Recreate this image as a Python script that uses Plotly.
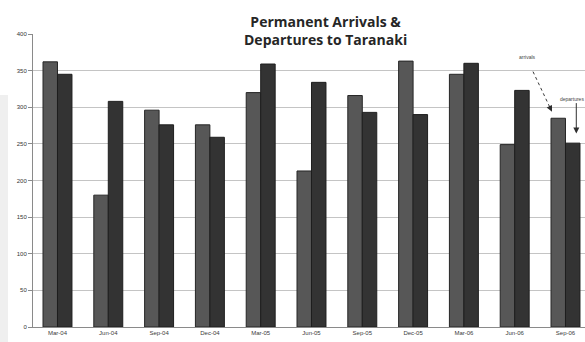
import plotly.graph_objects as go

# Quarterly permanent migration to Taranaki
quarters = ["Mar-04", "Jun-04", "Sep-04", "Dec-04", "Mar-05", "Jun-05",
            "Sep-05", "Dec-05", "Mar-06", "Jun-06", "Sep-06"]
arrivals = [362, 180, 296, 276, 320, 213, 316, 363, 345, 249, 285]
departures = [345, 308, 276, 259, 359, 334, 293, 290, 360, 323, 251]
y_ticks = [0, 50, 100, 150, 200, 250, 300, 350, 400]

W, H = 585, 342
M_L, M_R, M_T, M_B = 33, 0, 34, 15
BARGAP = 0.43
X_RANGE = [-0.482, 10.384]
Y_RANGE = [0, 400]

plot_w = W - M_L - M_R
plot_h = H - M_T - M_B
px_per_x = plot_w / (X_RANGE[1] - X_RANGE[0])
px_per_y = plot_h / (Y_RANGE[1] - Y_RANGE[0])
bar_w = (1 - BARGAP) / 2


def py(px_from_top):
    """Paper y for a pixel row measured from the top of the figure."""
    return (H - M_B - px_from_top) / plot_h


def px(px_from_left):
    """Paper x for a pixel column measured from the left of the figure."""
    return (px_from_left - M_L) / plot_w


fig = go.Figure()
fig.add_trace(go.Bar(
    x=quarters, y=arrivals, name="arrivals",
    marker=dict(color="#575757", line=dict(color="#262626", width=1)),
))
fig.add_trace(go.Bar(
    x=quarters, y=departures, name="departures",
    marker=dict(color="#333333", line=dict(color="#1e1e1e", width=1)),
))

last = len(quarters) - 1

# "arrivals" pointer: dotted leader ending in an arrowhead at the bar's corner
arr_tip_x = last - bar_w + 0.02
arr_tip_y = arrivals[-1] + 9
arr_dx, arr_dy = -19, -40  # tail offset in pixels
arr_tail_x = arr_tip_x + arr_dx / px_per_x
arr_tail_y = arr_tip_y - arr_dy / px_per_y

# "departures" pointer: straight arrow above the bar
dep_tip_x = last + bar_w / 2 + 0.07
dep_tip_y = departures[-1] + 13

shapes = [
    # grey strip along the left edge
    dict(type="rect", xref="paper", yref="paper",
         x0=px(0), x1=px(8), y0=py(H), y1=py(95),
         fillcolor="#efefef", line=dict(width=0), layer="below"),
    dict(type="line", xref="x", yref="y",
         x0=arr_tail_x, y0=arr_tail_y,
         x1=arr_tip_x - 2 / px_per_x, y1=arr_tip_y + 4 / px_per_y,
         line=dict(color="#3a3a3a", width=1, dash="dot")),
]

annotations = [
    dict(text="<b>Permanent Arrivals &<br>Departures to Taranaki</b>",
         xref="paper", yref="paper", x=px(325), y=py(30), showarrow=False,
         xanchor="center", yanchor="middle", align="center", borderpad=0,
         font=dict(family="Open Sans", size=14, color="#262626")),
    dict(text="arrivals", xref="x", yref="y",
         x=arr_tail_x - 6 / px_per_x, y=arr_tail_y + 15 / px_per_y, showarrow=False,
         font=dict(family="Liberation Sans", size=5, color="#444444")),
    dict(text="", xref="x", yref="y", x=arr_tip_x, y=arr_tip_y,
         showarrow=True, ax=-2, ay=-4, arrowhead=2, arrowsize=1.2,
         arrowwidth=1, arrowcolor="#2e2e2e"),
    dict(text="departures", xref="x", yref="y",
         x=dep_tip_x - 4 / px_per_x, y=dep_tip_y + 35 / px_per_y, showarrow=False,
         font=dict(family="Liberation Sans", size=5, color="#444444")),
    dict(text="", xref="x", yref="y", x=dep_tip_x, y=dep_tip_y,
         showarrow=True, ax=0, ay=-32, arrowhead=2, arrowsize=1.2,
         arrowwidth=1, arrowcolor="#2e2e2e"),
]

fig.update_layout(
    width=W, height=H, autosize=False,
    margin=dict(l=M_L, r=M_R, t=M_T, b=M_B, pad=0),
    paper_bgcolor="white", plot_bgcolor="white",
    barmode="group", bargap=BARGAP, bargroupgap=0,
    showlegend=False,
    shapes=shapes, annotations=annotations,
    xaxis=dict(
        type="category", range=X_RANGE,
        showgrid=False, showline=True, linecolor="#8a8a8a", linewidth=1,
        ticks="", tickfont=dict(family="Liberation Sans", size=6, color="#3a3a3a"),
        fixedrange=True,
    ),
    yaxis=dict(
        range=Y_RANGE, tickvals=y_ticks,
        showgrid=True, gridcolor="#c4c4c4", gridwidth=1,
        showline=True, linecolor="#8a8a8a", linewidth=1,
        ticks="outside", ticklen=4, tickcolor="#8a8a8a",
        tickfont=dict(family="Liberation Sans", size=6, color="#333333"),
        zeroline=False, fixedrange=True,
    ),
)

fig.write_html("out.html")
